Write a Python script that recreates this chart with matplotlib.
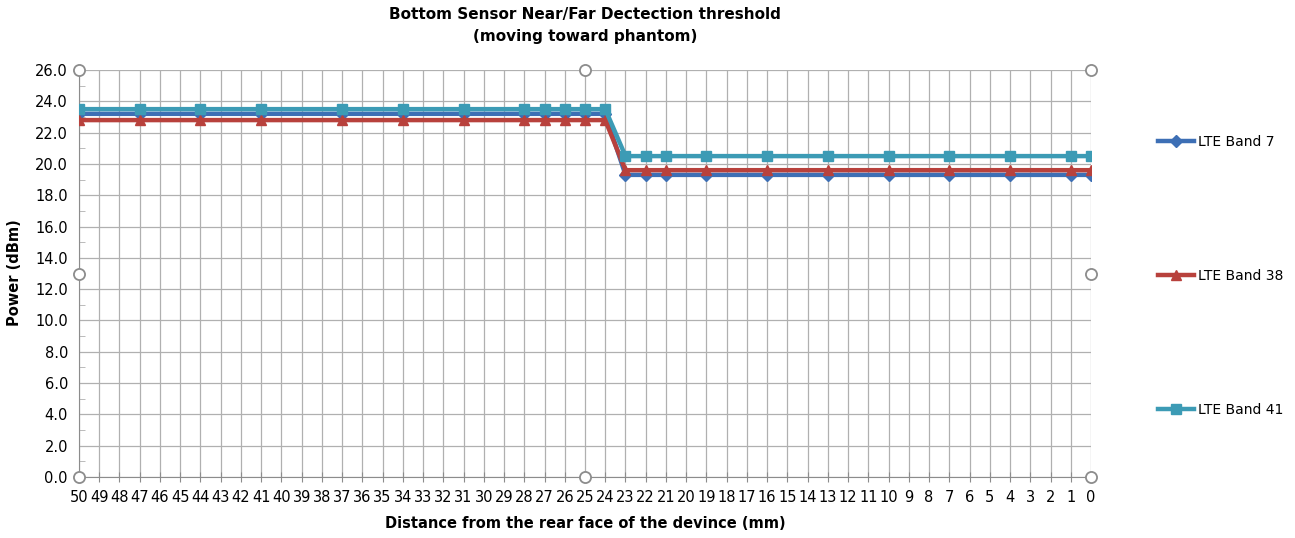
import matplotlib.pyplot as plt
from matplotlib.lines import Line2D

# Данные
distance_labels = [str(d) for d in range(50, -1, -1)]
distances = [50, 47, 44, 41, 37, 34, 31, 28, 27, 26, 25, 24, 23, 22, 21, 19, 16, 13, 10, 7, 4, 1, 0]
band7 = [23.2] * 12 + [19.3] * 11
band38 = [22.8] * 12 + [19.6] * 11
band41 = [23.5] * 12 + [20.5] * 11

series = [
    ("LTE Band 7", band7, "#3d6fb5", "D", 6),
    ("LTE Band 38", band38, "#b8413c", "^", 7.5),
    ("LTE Band 41", band41, "#3c9bb5", "s", 6.5),
]

fig = plt.figure(figsize=(12.95, 5.38), dpi=100)
ax = fig.add_axes([79 / 1295, 1 - 477 / 538, (1091 - 79) / 1295, (477 - 70) / 538])

x_pos = [50 - d for d in distances]
handles = []
for name, vals, color, marker, ms in series:
    ax.plot(x_pos, vals, color=color, lw=3.2, marker=marker, markersize=ms, zorder=3)
    handles.append(Line2D([], [], color=color, lw=3.2, marker=marker, markersize=ms))

ax.set_xlim(0, 50)
ax.set_ylim(0, 26)
ax.set_xticks(range(51))
ax.set_xticklabels(distance_labels, fontsize=10.5)
ax.set_yticks([i * 2 for i in range(14)])
ax.set_yticklabels([f"{i * 2:.1f}" for i in range(14)], fontsize=10.5)
ax.set_yticks(range(1, 26, 2), minor=True)
ax.grid(True, color="#b0b0b0", lw=0.9)
ax.set_axisbelow(True)
for side in ["top", "right"]:
    ax.spines[side].set_visible(False)
for side in ["left", "bottom"]:
    ax.spines[side].set_color("#8c8c8c")
ax.tick_params(axis="x", direction="inout", length=7, color="#8c8c8c", pad=6)
ax.tick_params(axis="y", which="major", direction="out", length=0, pad=8)
ax.tick_params(axis="y", which="minor", direction="in", length=4, color="#b0b0b0")

# маркеры выделения области построения
hx = [0, 0.5, 1, 0, 1, 0, 0.5, 1]
hy = [1, 1, 1, 0.5, 0.5, 0, 0, 0]
ax.plot(hx, hy, "o", transform=ax.transAxes, ms=8, mfc="white", mec="#8c8c8c",
        mew=1.3, clip_on=False, zorder=5, ls="none")

fig.text(585 / 1295, 1 - 15 / 538, "Bottom Sensor Near/Far Dectection threshold",
         ha="center", va="center", fontsize=11, fontweight="bold")
fig.text(585 / 1295, 1 - 37 / 538, "(moving toward phantom)",
         ha="center", va="center", fontsize=11, fontweight="bold")
fig.text(585 / 1295, 1 - 523 / 538, "Distance from the rear face of the devince (mm)",
         ha="center", va="center", fontsize=10.5, fontweight="bold")
fig.text(15 / 1295, 1 - 273 / 538, "Power (dBm)", rotation=90,
         ha="center", va="center", fontsize=10.5, fontweight="bold")

fig.legend(handles, [s[0] for s in series], loc="upper left",
           bbox_to_anchor=(1145 / 1295, 1 - 122 / 538), frameon=False,
           fontsize=10, labelspacing=8.65, handlelength=2.6, handletextpad=0.3)

fig.savefig("out.png", dpi=100)
